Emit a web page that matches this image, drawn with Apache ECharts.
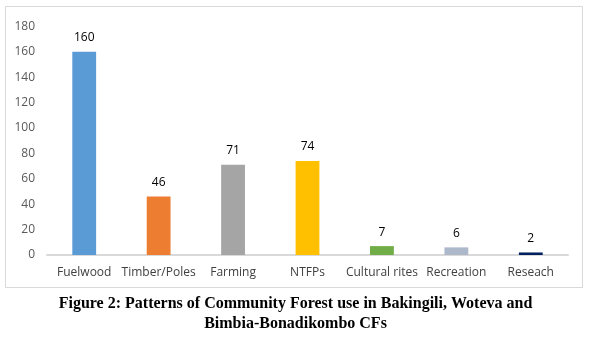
<!DOCTYPE html>
<html><head><meta charset="utf-8">
<script src="https://cdn.jsdelivr.net/npm/echarts@6/dist/echarts.min.js"></script>
<style>html,body{margin:0;padding:0;background:#fff;}#c{width:591px;height:339px;}</style>
</head><body><div id="c"></div>
<script>
var categories = ['Fuelwood','Timber/Poles','Farming','NTFPs','Cultural rites','Recreation','Reseach'];
var values = [160, 46, 71, 74, 7, 6, 2];
var barColors = ['#5B9BD5','#ED7D31','#A5A5A5','#FFC000','#70AD47','#ADB9CA','#002060'];
var captionLines = ['Figure 2: Patterns of Community Forest use in Bakingili, Woteva and','Bimbia-Bonadikombo CFs'];

var chart = echarts.init(document.getElementById('c'), null, {renderer:'canvas'});
chart.setOption({
  animation:false,
  backgroundColor:'#fff',
  grid:{left:47, right:23, top:26.4, bottom:84, containLabel:false},
  xAxis:{type:'category', data:categories,
    axisLine:{lineStyle:{color:'#D9D9D9', width:2}},
    axisTick:{show:false},
    axisLabel:{color:'#404040', fontSize:12, fontFamily:'Open Sans, sans-serif', margin:12, interval:0}
  },
  yAxis:{type:'value', min:0, max:180, interval:20,
    axisLine:{show:false}, axisTick:{show:false}, splitLine:{show:false},
    axisLabel:{color:'#595959', fontSize:12, fontFamily:'Open Sans, sans-serif', margin:12}
  },
  series:[{type:'bar', barWidth:'32%',
    data: values.map(function(v,i){return {value:v, itemStyle:{color:barColors[i]}};}),
    label:{show:true, position:'top', distance:8, color:'#000', fontSize:12, fontFamily:'Open Sans, sans-serif'}
  }],
  graphic:[
    {type:'rect', shape:{x:5.5,y:6.5,width:577,height:281}, style:{fill:null, stroke:'#D9D9D9', lineWidth:1}, silent:true, z:-1},
    {type:'text', left:'center', top:296, style:{text:captionLines[0], font:'bold 16px "Liberation Serif", serif', fill:'#000'}},
    {type:'text', left:'center', top:316, style:{text:captionLines[1], font:'bold 16px "Liberation Serif", serif', fill:'#000'}}
  ]
});
</script></body></html>
